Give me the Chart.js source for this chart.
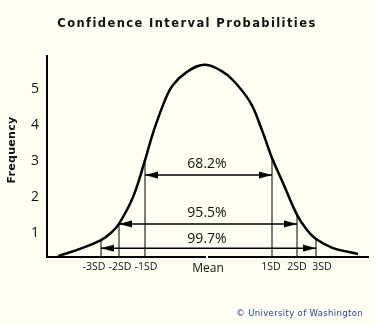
<!DOCTYPE html>
<html>
<head>
<meta charset="utf-8">
<script src="https://cdn.jsdelivr.net/npm/chart.js@4"></script>
<style>
html, body { margin: 0; padding: 0; background: #fefef2; }
#wrap { width: 375px; height: 325px; }
</style>
</head>
<body>
<div id="wrap"><canvas id="chart" width="375" height="325"></canvas></div>
<script>
// bell curve (x: offset from the mean, y: frequency)
const curveX = [-149, -127, -106, -95, -88, -74, -62, -54, -42, -34, -20, -3, 13, 26, 43, 55, 65, 76, 90, 100, 109, 126, 151];
const curveY = [0.37, 0.57, 0.81, 1.04, 1.26, 2.00, 3.02, 3.77, 4.68, 5.10, 5.46, 5.66, 5.51, 5.23, 4.63, 3.85, 3.08, 2.39, 1.51, 1.09, 0.84, 0.59, 0.43];

// SD guide lines: where they sit and how high they reach
const sdX = [-106, -88, -62, 65, 90, 109];
const sdTop = [0.81, 1.26, 3.02, 3.08, 1.51, 0.84];

// interval arrows
const bandLabels = ['68.2%', '95.5%', '99.7%'];
const bandFrom = [-62, -88, -106];
const bandTo = [65, 90, 109];
const bandArrowY = [2.61, 1.26, 0.59];
const bandTextY = [2.91, 1.56, 0.84];

// axes
const xTickPos = [-113, -87, -61, 1, 64, 90, 115];
const xTickLabels = ['-3SD', '-2SD', '-1SD', 'Mean', '1SD', '2SD', '3SD'];
const yTicks = [1, 2, 3, 4, 5];
const xMin = -160, xMax = 161;
const yMin = 0.345, yMax = 5.9;
const yTitleAt = 3.3;   // where "Frequency" is centred

const bg = '#fefef2';

function makeHead(pointRight) {
  const c = document.createElement('canvas');
  c.width = 26; c.height = 8;
  const g = c.getContext('2d');
  g.fillStyle = '#000';
  g.beginPath();
  if (pointRight) {
    g.moveTo(0, 0.5); g.lineTo(13, 4); g.lineTo(0, 7.5);
  } else {
    g.moveTo(26, 0.5); g.lineTo(13, 4); g.lineTo(26, 7.5);
  }
  g.closePath();
  g.fill();
  return c;
}
const headL = makeHead(false), headR = makeHead(true);

const datasets = [{
  data: curveX.map((x, i) => ({ x: x, y: curveY[i] })),
  borderColor: '#000', borderWidth: 2.5, pointRadius: 0, tension: 0.4, fill: false
}];
sdX.forEach(function(x, i) {
  datasets.push({
    data: [{ x: x, y: yMin }, { x: x, y: sdTop[i] }],
    borderColor: '#000', borderWidth: 1, pointRadius: 0, tension: 0
  });
});
bandLabels.forEach(function(t, i) {
  datasets.push({
    data: [{ x: bandFrom[i], y: bandArrowY[i] }, { x: bandTo[i], y: bandArrowY[i] }],
    borderColor: '#000', borderWidth: 1.5, tension: 0,
    pointRadius: 1, pointHoverRadius: 1,
    pointStyle: c => c.dataIndex === 0 ? headL : headR
  });
});

const decor = {
  id: 'decor',
  afterDatasetsDraw(chart) {
    const ctx = chart.ctx, x = chart.scales.x, y = chart.scales.y;
    ctx.save();
    ctx.fillStyle = '#111';
    ctx.font = '14px "Open Sans"';
    ctx.textAlign = 'center';
    ctx.textBaseline = 'middle';
    bandLabels.forEach(function(t, i) {
      ctx.fillText(t, x.getPixelForValue(0), y.getPixelForValue(bandTextY[i]));
    });
    ctx.restore();
  },
  afterDraw(chart) {
    const ctx = chart.ctx, x = chart.scales.x, y = chart.scales.y;
    ctx.save();
    // small notch in the x axis under the mean
    ctx.fillStyle = bg;
    ctx.fillRect(x.getPixelForValue(0) - 1, chart.chartArea.bottom - 2, 2, 4);

    ctx.textBaseline = 'middle';
    ctx.fillStyle = '#111';
    ctx.font = 'bold 11.5px "DejaVu Sans"';
    ctx.letterSpacing = '1.4px';
    ctx.textAlign = 'center';
    ctx.fillText('Confidence Interval Probabilities', 187, 24);

    ctx.save();
    ctx.font = 'bold 11px "DejaVu Sans"';
    ctx.letterSpacing = '0.3px';
    ctx.translate(12.5, y.getPixelForValue(yTitleAt));
    ctx.rotate(-Math.PI / 2);
    ctx.fillText('Frequency', 0, 0);
    ctx.restore();

    ctx.fillStyle = '#2f3f9f';
    ctx.font = '8.5px "DejaVu Sans"';
    ctx.letterSpacing = '0.35px';
    ctx.textAlign = 'right';
    ctx.fillText('\u00a9 University of Washington', 363, 314);
    ctx.restore();
  }
};

new Chart(document.getElementById('chart'), {
  type: 'line',
  data: { datasets: datasets },
  options: {
    responsive: false,
    animation: false,
    events: [],
    layout: { padding: { top: 56, right: 7, left: 0, bottom: 0 } },
    plugins: { legend: { display: false }, tooltip: { enabled: false } },
    scales: {
      x: {
        type: 'linear', min: xMin, max: xMax,
        grid: { display: false, drawTicks: false },
        border: { color: '#000', width: 2 },
        afterBuildTicks: s => { s.ticks = xTickPos.map(v => ({ value: v })); },
        afterFit: s => { s.height = 68; },
        ticks: {
          autoSkip: false, maxRotation: 0, padding: 4, color: '#111',
          callback: (v, i) => xTickLabels[i],
          font: c => ({ family: 'Open Sans', size: (c.index === 3 ? 12 : 10.5) })
        }
      },
      y: {
        type: 'linear', min: yMin, max: yMax,
        grid: { display: false, drawTicks: false },
        border: { color: '#000', width: 2 },
        afterBuildTicks: s => { s.ticks = yTicks.map(v => ({ value: v })); },
        afterFit: s => { s.width = 47; },
        ticks: { padding: 8, color: '#111', font: { family: 'Open Sans', size: 14 } }
      }
    }
  },
  plugins: [decor]
});
</script>
</body>
</html>
